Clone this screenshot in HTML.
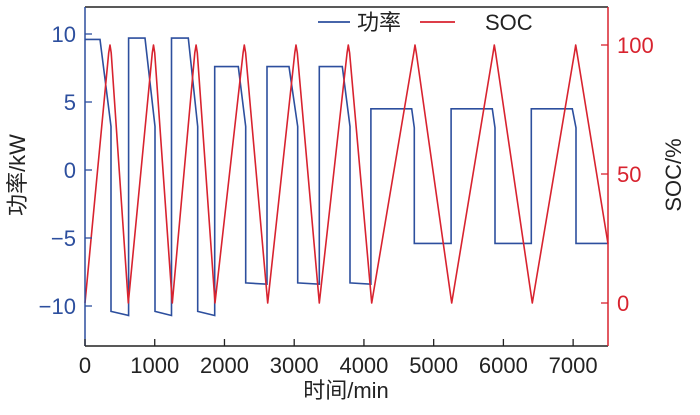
<!DOCTYPE html>
<html><head><meta charset="utf-8"><style>
body{margin:0;background:#fff;}
svg text{font-family:"Liberation Sans","Noto Sans CJK SC",sans-serif;}
</style></head><body>
<svg id="chart" width="700" height="410" viewBox="0 0 700 410" xmlns="http://www.w3.org/2000/svg">
<g id="grid"></g>
<g id="series"></g>
<g id="axes"></g>
</svg>
<script>
const xTicks=[0,1000,2000,3000,4000,5000,6000,7000];
const yLeftTicks=[10,5,0,-5,-10];
const yRightTicks=[100,50,0];
const powerT=[0,215,373,373,625,625,860,1004,1004,1240,1240,1481,1616,1616,1860,1860,2198,2305,2305,2610,2610,2926,3050,3050,3360,3360,3690,3800,3800,4100,4100,4685,4722,4722,5250,5250,5841,5880,5880,6400,6400,6988,7041,7041,7500];
const powerV=[9.6,9.6,3.2,-10.4,-10.7,9.7,9.7,3.2,-10.4,-10.7,9.7,9.7,3.2,-10.4,-10.7,7.6,7.6,3.2,-8.3,-8.4,7.6,7.6,3.2,-8.3,-8.4,7.6,7.6,3.2,-8.3,-8.4,4.5,4.5,3.1,-5.4,-5.4,4.5,4.5,3.1,-5.4,-5.4,4.5,4.5,3.1,-5.4,-5.4];
const socT=[0,340,358,375,621,965,983,1000,1252,1575,1593,1610,1864,2267,2285,2303,2620,3008,3026,3044,3360,3758,3776,3794,4111,4715,4733,4751,5258,5852,5870,5888,6415,7019,7037,7055,7500];
const socV=[0,97,100,97,0,97,100,97,0,97,100,97,0,97,100,97,0,97,100,97,0,97,100,97,0,97,100,97,0,97,100,97,0,97,100,97,23];
const NS='http://www.w3.org/2000/svg';
const X0=85,X1=608,Y0=7,Y1=346;
const xs=t=>X0+(X1-X0)*t/7500;
const yL=v=>170-v*13.6;
const yR=v=>303-v*2.58;
const BLUE='#2d4f9e',RED='#d8232f';
function mk(tag,attrs,parent,txt){const e=document.createElementNS(NS,tag);for(const k in attrs)e.setAttribute(k,attrs[k]);if(txt!==undefined)e.textContent=txt;parent.appendChild(e);return e;}
const series=document.getElementById('series'),axes=document.getElementById('axes');
let d='';powerT.forEach((t,i)=>{d+=(i?'L':'M')+xs(t).toFixed(1)+','+yL(powerV[i]).toFixed(1);});
const pl=mk('path',{d:d,fill:'none',stroke:BLUE,'stroke-width':1.6},series);


d='';socT.forEach((t,i)=>{d+=(i?'L':'M')+xs(t).toFixed(1)+','+yR(socV[i]).toFixed(1);});
const sl=mk('path',{d:d,fill:'none',stroke:RED,'stroke-width':1.6,'stroke-linejoin':'round'},series);


let a=mk('line',{x1:X0,y1:Y0,x2:X1,y2:Y0,stroke:'#222','stroke-width':1.5},axes);

a=mk('line',{x1:X0,y1:Y1,x2:X1,y2:Y1,stroke:'#222','stroke-width':1.5},axes);

a=mk('line',{x1:X0,y1:Y0,x2:X0,y2:Y1,stroke:BLUE,'stroke-width':1.5},axes);

a=mk('line',{x1:X1,y1:Y0,x2:X1,y2:Y1,stroke:RED,'stroke-width':1.5},axes);

xTicks.forEach(v=>{const x=xs(v);mk('line',{x1:x,y1:Y1,x2:x,y2:Y1-7,stroke:'#222','stroke-width':1.3},axes);
const t=mk('text',{x:x,y:Y1+27,'text-anchor':'middle','font-size':22,fill:'#222'},axes,String(v));
});
yLeftTicks.forEach(v=>{const y=yL(v);mk('line',{x1:X0,y1:y,x2:X0+7,y2:y,stroke:BLUE,'stroke-width':1.3},axes);
const t=mk('text',{x:76,y:y+8,'text-anchor':'end','font-size':22,fill:BLUE},axes,v<0?'\u2212'+Math.abs(v):String(v));
});
yRightTicks.forEach(v=>{const y=yR(v);mk('line',{x1:X1,y1:y,x2:X1-7,y2:y,stroke:RED,'stroke-width':1.3},axes);
const t=mk('text',{x:617,y:y+8,'text-anchor':'start','font-size':22,fill:RED},axes,String(v));
});
let t=mk('text',{x:346,y:398,'text-anchor':'middle','font-size':22,fill:'#222'},axes,'时间/min');

t=mk('text',{x:0,y:0,'text-anchor':'middle','font-size':22,fill:'#222',transform:'translate(25,175) rotate(-90)'},axes,'功率/kW');

t=mk('text',{x:0,y:0,'text-anchor':'middle','font-size':22,fill:'#222',transform:'translate(681,175) rotate(-90)'},axes,'SOC/%');

const lg=mk('g',{},axes);

let e=mk('line',{x1:318,y1:22,x2:350,y2:22,stroke:BLUE,'stroke-width':1.8},lg);

e=mk('text',{x:357,y:30,'font-size':22,fill:'#222'},lg,'功率');

e=mk('line',{x1:420,y1:22,x2:455,y2:22,stroke:RED,'stroke-width':1.8},lg);

e=mk('text',{x:485,y:30,'font-size':22,fill:'#222'},lg,'SOC');

</script>
</body></html>
